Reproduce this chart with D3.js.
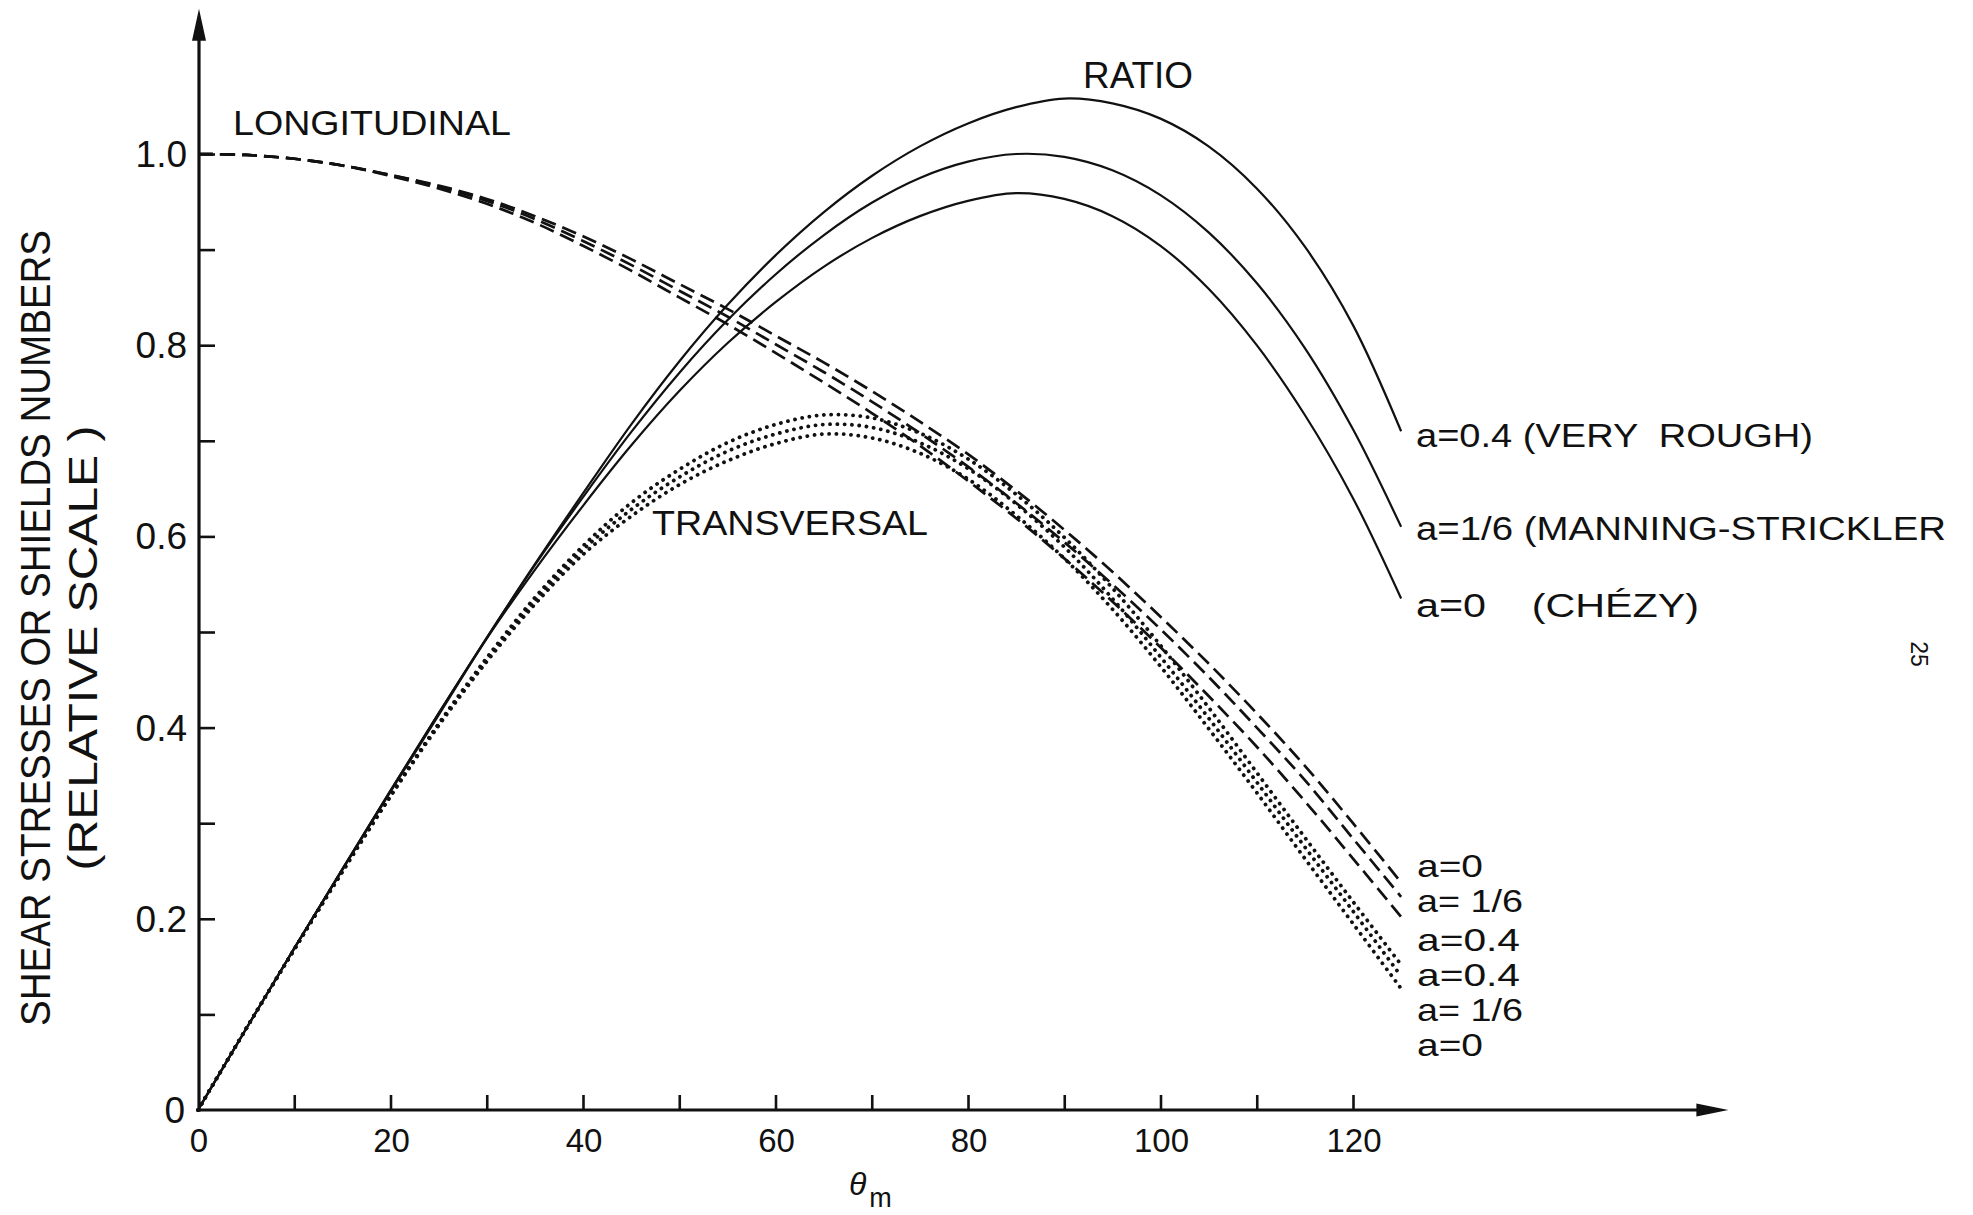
<!DOCTYPE html>
<html>
<head>
<meta charset="utf-8">
<script src="https://cdn.jsdelivr.net/npm/d3@7"></script>
<style>
  body { margin: 0; background: #fff; }
  svg { display: block; background: #fff; }
  text { font-family: "Liberation Sans", Arial, sans-serif; fill: #111; }
</style>
</head>
<body>
<svg id="chart" width="1973" height="1215"></svg>
<script>
// ---------- data ----------
const theta = [0,5,10,15,20,25,30,35,40,45,50,55,60,65,70,75,80,85,90,95,100,105,110,115,120,125];

// RATIO (solid)
const ratioA04 = [0,0.085,0.169,0.252,0.334,0.415,0.494,0.571,0.645,0.717,0.783,0.842,0.894,0.939,0.977,1.008,1.032,1.049,1.058,1.053,1.037,1.008,0.964,0.903,0.821,0.710];
const ratioA16 = [0,0.085,0.169,0.252,0.334,0.415,0.494,0.570,0.641,0.709,0.771,0.826,0.874,0.915,0.949,0.975,0.992,1.000,0.997,0.983,0.957,0.918,0.865,0.797,0.712,0.610];
const ratioA0  = [0,0.085,0.169,0.251,0.333,0.413,0.493,0.565,0.632,0.695,0.752,0.802,0.845,0.882,0.912,0.935,0.951,0.959,0.953,0.935,0.904,0.859,0.800,0.727,0.640,0.535];

// LONGITUDINAL (dashed)
const longA0  = [1.0,0.999,0.995,0.988,0.978,0.967,0.953,0.935,0.914,0.890,0.864,0.838,0.810,0.782,0.752,0.720,0.686,0.648,0.607,0.563,0.516,0.467,0.415,0.360,0.300,0.238];
const longA16 = [1.0,0.999,0.995,0.988,0.978,0.966,0.951,0.932,0.909,0.884,0.857,0.830,0.801,0.772,0.741,0.708,0.673,0.635,0.594,0.550,0.503,0.453,0.400,0.345,0.284,0.223];
const longA04 = [1.0,0.999,0.995,0.988,0.977,0.964,0.948,0.928,0.904,0.878,0.850,0.822,0.792,0.761,0.729,0.695,0.658,0.619,0.577,0.532,0.484,0.433,0.380,0.323,0.263,0.202];

// TRANSVERSAL (dotted)
const transA04 = [0,0.085,0.168,0.250,0.329,0.404,0.473,0.536,0.590,0.635,0.670,0.698,0.717,0.727,0.724,0.708,0.681,0.644,0.599,0.546,0.486,0.421,0.353,0.285,0.218,0.152];
const transA16 = [0,0.085,0.168,0.250,0.329,0.403,0.471,0.533,0.586,0.628,0.662,0.689,0.707,0.717,0.714,0.698,0.671,0.634,0.589,0.535,0.474,0.410,0.343,0.275,0.208,0.140];
const transA0  = [0,0.085,0.168,0.249,0.328,0.402,0.469,0.529,0.581,0.621,0.654,0.679,0.697,0.707,0.703,0.687,0.660,0.622,0.577,0.524,0.464,0.399,0.332,0.263,0.195,0.127];

// axes / ticks / labels
const xTickValues = [10,20,30,40,50,60,70,80,90,100,110,120];
const xTickLabels = [0,20,40,60,80,100,120];
const yTickValues = [0.1,0.2,0.3,0.4,0.5,0.6,0.7,0.8,0.9,1.0];
const yTickLabels = ["0","0.2","0.4","0.6","0.8","1.0"];
const yTitleLines = ["SHEAR STRESSES OR SHIELDS NUMBERS", "(RELATIVE SCALE )"];
const xTitle = "θ";
const xTitleSub = "m";
const ratioLabels = ["a=0.4 (VERY  ROUGH)", "a=1/6 (MANNING-STRICKLER", "a=0    (CHÉZY)"];
const endLabels = ["a=0", "a= 1/6", "a=0.4", "a=0.4", "a= 1/6", "a=0"];
const groupTitles = ["LONGITUDINAL", "RATIO", "TRANSVERSAL"];
const pageNumber = "25";

// ---------- drawing ----------
const svg = d3.select("#chart");
const ink = "#111";

const x = d3.scaleLinear().domain([0, 120]).range([198, 1353]);
const y = d3.scaleLinear().domain([0, 1]).range([1110, 154]);

// axis lines with arrows
const xEnd = 159, yEnd = 1.152;
svg.append("line").attr("x1", x(0)).attr("y1", y(0)).attr("x2", x(xEnd) - 20).attr("y2", y(0))
  .attr("stroke", ink).attr("stroke-width", 3.2);
svg.append("path")
  .attr("d", `M${x(xEnd)},${y(0)} L${x(xEnd)-32},${y(0)-6.5} L${x(xEnd)-32},${y(0)+6.5} Z`)
  .attr("fill", ink);
svg.append("line").attr("x1", x(0)+1).attr("y1", y(0)+1.5).attr("x2", x(0)+1).attr("y2", y(yEnd) + 20)
  .attr("stroke", ink).attr("stroke-width", 3.2);
svg.append("path")
  .attr("d", `M${x(0)+1},${y(yEnd)} L${x(0)+1-7},${y(yEnd)+32} L${x(0)+1+7},${y(yEnd)+32} Z`)
  .attr("fill", ink);

// x ticks (inward)
svg.append("g").attr("transform", `translate(0,${y(0)})`)
  .call(d3.axisBottom(x).tickValues(xTickValues).tickSize(-15).tickSizeOuter(0).tickFormat(""))
  .call(g => g.select(".domain").remove())
  .call(g => g.selectAll(".tick line").attr("stroke", ink).attr("stroke-width", 2.6));

// y ticks (inward)
svg.append("g").attr("transform", `translate(${x(0)+1},0)`)
  .call(d3.axisLeft(y).tickValues(yTickValues).tickSize(-16).tickSizeOuter(0).tickFormat(""))
  .call(g => g.select(".domain").remove())
  .call(g => g.selectAll(".tick line").attr("stroke", ink).attr("stroke-width", 2.6));

// x tick labels
svg.append("g").selectAll("text").data(xTickLabels).join("text")
  .attr("x", d => x(d) + 1).attr("y", y(0) + 42)
  .attr("text-anchor", "middle").attr("font-size", 33)
  .text(d => d);

// y tick labels
svg.append("g").selectAll("text").data(yTickLabels).join("text")
  .attr("x", d => d === "0" ? x(0) - 13 : x(0) - 11)
  .attr("y", d => y(+d) + 13)
  .attr("text-anchor", "end").attr("font-size", 37)
  .text(d => d);

// y title (two lines, rotated)
svg.append("text")
  .attr("transform", "translate(50,628) rotate(-90)")
  .attr("text-anchor", "middle").attr("font-size", 42)
  .attr("textLength", 796).attr("lengthAdjust", "spacingAndGlyphs")
  .text(yTitleLines[0]);
svg.append("text")
  .attr("transform", "translate(97,648) rotate(-90)")
  .attr("text-anchor", "middle").attr("font-size", 41)
  .attr("textLength", 445).attr("lengthAdjust", "spacingAndGlyphs")
  .style("white-space", "pre")
  .text(yTitleLines[1]);

// x title
const xt = svg.append("text").attr("x", 849).attr("y", 1195).attr("font-size", 32).attr("font-style", "italic");
xt.append("tspan").text(xTitle);
xt.append("tspan").attr("dx", 3).attr("dy", 12).attr("font-size", 27).attr("font-style", "normal").text(xTitleSub);

// curves
const line = d3.line().x((d, i) => x(theta[i])).y(d => y(d)).curve(d3.curveCatmullRom.alpha(0.5));

const solid = [ratioA04, ratioA16, ratioA0];
const dashed = [longA0, longA16, longA04];
const dotted = [transA04, transA16, transA0];

svg.append("g").selectAll("path").data(solid).join("path")
  .attr("d", line).attr("fill", "none").attr("stroke", ink).attr("stroke-width", 2.2);

svg.append("g").selectAll("path").data(dashed).join("path")
  .attr("d", line).attr("fill", "none").attr("stroke", ink).attr("stroke-width", 2.7)
  .attr("stroke-dasharray", "15,7");

svg.append("g").selectAll("path").data(dotted).join("path")
  .attr("d", line).attr("fill", "none").attr("stroke", ink).attr("stroke-width", 3.8)
  .attr("stroke-linecap", "round").attr("stroke-dasharray", "0.1,7.2");

// group titles
const titlePos = [
  {x: 233, y: 135, size: 35, len: 278},
  {x: 1083, y: 88, size: 36, len: 110},
  {x: 652, y: 535, size: 35, len: 276}
];
svg.append("g").selectAll("text").data(groupTitles).join("text")
  .attr("x", (d, i) => titlePos[i].x).attr("y", (d, i) => titlePos[i].y)
  .attr("font-size", (d, i) => titlePos[i].size)
  .attr("textLength", (d, i) => titlePos[i].len).attr("lengthAdjust", "spacingAndGlyphs")
  .text(d => d);

// ratio labels at the right
const ratioLabelY = [447, 540, 617];
const ratioLabelLen = [397, 530, 283];
svg.append("g").selectAll("text").data(ratioLabels).join("text")
  .attr("x", 1416).attr("y", (d, i) => ratioLabelY[i])
  .attr("font-size", 33).style("white-space", "pre")
  .attr("textLength", (d, i) => ratioLabelLen[i]).attr("lengthAdjust", "spacingAndGlyphs")
  .text(d => d);

// end labels for longitudinal / transversal
const endLabelY = [877, 912, 951, 986, 1021, 1056];
const endLabelLen = [66, 106, 103, 103, 106, 66];
svg.append("g").selectAll("text").data(endLabels).join("text")
  .attr("x", 1417).attr("y", (d, i) => endLabelY[i])
  .attr("font-size", 32).style("white-space", "pre")
  .attr("textLength", (d, i) => endLabelLen[i]).attr("lengthAdjust", "spacingAndGlyphs")
  .text(d => d);

// page number (rotated)
svg.append("text")
  .attr("transform", "translate(1911,654) rotate(90)")
  .attr("text-anchor", "middle").attr("font-size", 23)
  .text(pageNumber);
</script>
</body>
</html>
